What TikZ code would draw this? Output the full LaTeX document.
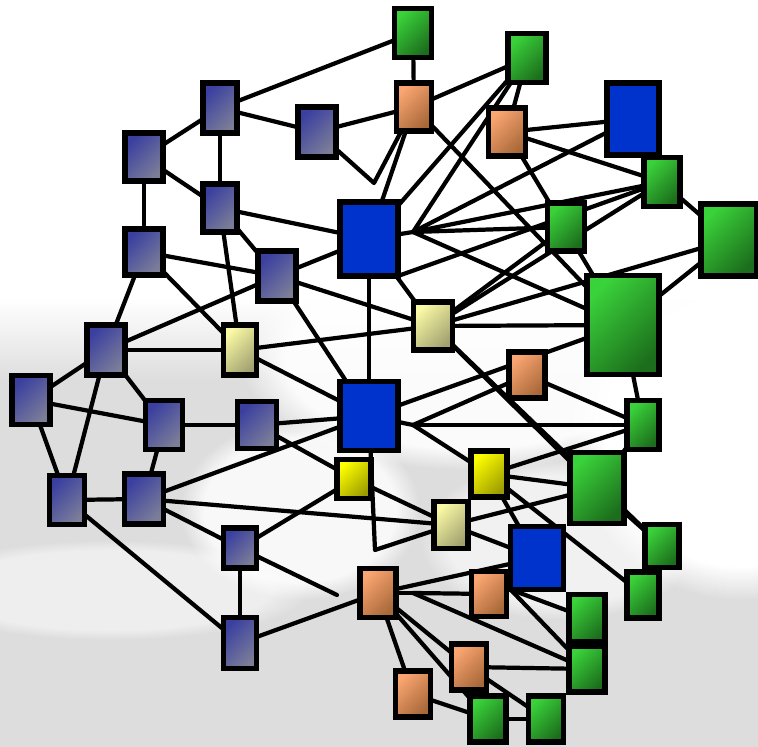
\documentclass[tikz,border=0pt]{standalone}
\usepackage{xcolor}
\usepackage{tikz}
\usetikzlibrary{backgrounds, fadings}
\pgfdeclarelayer{back}
\pgfsetlayers{back,background,main}

\definecolor{slateA}{HTML}{3A3FA0}
\definecolor{slateB}{HTML}{7C7E98}
\definecolor{blueN}{HTML}{0033CC}
\definecolor{paleA}{HTML}{FAFAA6}
\definecolor{paleB}{HTML}{A2A270}
\definecolor{yelA}{HTML}{FFFF00}
\definecolor{yelB}{HTML}{9C9C00}
\definecolor{orA}{HTML}{FBA672}
\definecolor{orB}{HTML}{A86838}
\definecolor{grA}{HTML}{3AD23A}
\definecolor{grB}{HTML}{1C6E1C}
\definecolor{cloud}{HTML}{DDDDDD}

\tikzset{
  % node styles
  box/.style={rectangle, draw=black, line width=3.6pt, inner sep=0pt, outer sep=0pt},
  wh/.style 2 args={minimum width=#1*0.025cm, minimum height=#2*0.025cm},
  slate/.style={box, top color=slateA, bottom color=slateB, shading angle=45},
  hub/.style={box, fill=blueN},
  pale/.style={box, top color=paleA, bottom color=paleB, shading angle=45},
  yel/.style={box, top color=yelA, bottom color=yelB, shading angle=45},
  ora/.style={box, top color=orA, bottom color=orB, shading angle=45},
  grn/.style={box, top color=grA, bottom color=grB, shading angle=45},
  % connector style
  link/.style={line width=3pt, line cap=round, line join=round},
  % background blobs
  glow/.style={white, opacity=#1, path fading=circle with fuzzy edge 20 percent},
  glow/.default={0.8},
}

\begin{document}
\begin{tikzpicture}[x=0.025cm, y=-0.025cm]
    \useasboundingbox (0,0) rectangle (758,747);

    % grey clouds behind everything
    \begin{pgfonlayer}{back}
      \fill[white] (0,0) rectangle (758,747);
      \fill[cloud] (0,380) rectangle (758,747);
      \fill[cloud, path fading=north] (0,300) rectangle (758,382);
      \fill[glow=1] (740,430) ellipse (170 and 170);
      \fill[glow=0.9] (470,360) ellipse (230 and 110);
      \fill[glow] (300,510) ellipse (120 and 90);
      \fill[glow=0.5] (110,590) ellipse (200 and 50);
      \fill[glow=0.6] (560,540) ellipse (140 and 80);
    \end{pgfonlayer}

    % slate nodes
    \node[slate, wh={34}{50}] (s1) at (220,108) {};
    \node[slate, wh={38}{50}] (s2) at (317,132) {};
    \node[slate, wh={38}{48}] (s3) at (144,157) {};
    \node[slate, wh={34}{48}] (s4) at (220,208) {};
    \node[slate, wh={38}{46}] (s5) at (144,252) {};
    \node[slate, wh={38}{50}] (s6) at (277,276) {};
    \node[slate, wh={38}{50}] (s7) at (106,350) {};
    \node[slate, wh={38}{49}] (s8) at (31,400) {};
    \node[slate, wh={37}{49}] (s9) at (164,425) {};
    \node[slate, wh={39}{47}] (s10) at (257,425) {};
    \node[slate, wh={35}{49}] (s11) at (67,500) {};
    \node[slate, wh={39}{50}] (s12) at (144,499) {};
    \node[slate, wh={33}{40}] (s13) at (240,548) {};
    \node[slate, wh={33}{51}] (s14) at (240,643) {};

    % blue nodes
    \node[hub, wh={58}{74}] (b1) at (369,239) {};
    \node[hub, wh={58}{69}] (b2) at (369,416) {};
    \node[hub, wh={53}{63}] (b3) at (537,558) {};
    \node[hub, wh={52}{72}] (b4) at (633,119) {};

    % yellow nodes
    \node[pale, wh={33}{50}] (p1) at (240,350) {};
    \node[pale, wh={39}{48}] (p2) at (433,326) {};
    \node[pale, wh={34}{47}] (p3) at (451,525) {};
    \node[yel, wh={34}{39}] (y1) at (354,479) {};
    \node[yel, wh={36}{46}] (y2) at (489,474) {};

    % orange nodes
    \node[ora, wh={35}{48}] (o1) at (414,107) {};
    \node[ora, wh={37}{48}] (o2) at (507,132) {};
    \node[ora, wh={36}{46}] (o3) at (527,375) {};
    \node[ora, wh={36}{49}] (o4) at (378,593) {};
    \node[ora, wh={35}{45}] (o5) at (489,594) {};
    \node[ora, wh={35}{46}] (o6) at (469,667) {};
    \node[ora, wh={35}{46}] (o7) at (413,694) {};

    % green nodes
    \node[grn, wh={37}{49}] (g1) at (413,33) {};
    \node[grn, wh={38}{49}] (g2) at (527,58) {};
    \node[grn, wh={36}{49}] (g3) at (662,182) {};
    \node[grn, wh={37}{48}] (g4) at (566,227) {};
    \node[grn, wh={56}{72}] (g5) at (729,240) {};
    \node[grn, wh={72}{99}] (g6) at (623,325) {};
    \node[grn, wh={32}{49}] (g7) at (643,425) {};
    \node[grn, wh={54}{71}] (g8) at (597,488) {};
    \node[grn, wh={34}{43}] (g9) at (662,546) {};
    \node[grn, wh={32}{46}] (g10) at (643,595) {};
    \node[grn, wh={36}{47}] (g11) at (587,618) {};
    \node[grn, wh={36}{46}] (g12) at (587,669) {};
    \node[grn, wh={36}{46}] (g13) at (488,719) {};
    \node[grn, wh={35}{46}] (g14) at (546,719) {};

    % bend points
    \coordinate (b1h) at (413,232);
    \coordinate (b2h) at (413,425);
    \coordinate (o4h) at (413,593);
    \coordinate (s2v) at (374,183);
    \coordinate (b2v) at (375,550);
    \coordinate (s13e) at (337,595);

    \begin{scope}[on background layer]
    % left part
    \draw[link] (s1) -- (g1);
    \draw[link] (s1) -- (s2);
    \draw[link] (s1) -- (s3);
    \draw[link] (s1) -- (s4);
    \draw[link] (s3) -- (s4);
    \draw[link] (s3) -- (s5);
    \draw[link] (s2) -- (o1);
    \draw[link] (s2) -- (s2v) -- (o1);
    \draw[link] (b1) -- (o1);
    \draw[link] (s4) -- (b1);
    \draw[link] (s4) -- (s6);
    \draw[link] (s4) -- (p1);
    \draw[link] (s5) -- (s6);
    \draw[link] (s5) -- (s7);
    \draw[link] (s5) -- (p1);
    \draw[link] (s6) -- (b1);
    \draw[link] (s6) -- (s7);
    \draw[link] (s6) -- (p2);
    \draw[link] (s6) -- (b2);
    \draw[link] (s7) -- (p1);
    \draw[link] (p1) -- (p2);
    \draw[link] (p1) -- (b2);
    \draw[link] (b1) -- (b2);
    \draw[link] (b1) -- (p2);
    \draw[link] (s7) -- (s8);
    \draw[link] (s7) -- (s11);
    \draw[link] (s7) -- (s9);
    \draw[link] (s8) -- (s9);
    \draw[link] (s8) -- (s11);
    \draw[link] (s9) -- (s10);
    \draw[link] (s9) -- (s12);
    \draw[link] (s10) -- (b2);
    \draw[link] (s10) -- (y1);
    \draw[link] (s11) -- (s12);
    \draw[link] (s11) -- (s14);
    \draw[link] (s12) -- (b2);
    \draw[link] (s12) -- (p3);
    \draw[link] (s12) -- (s13);
    \draw[link] (s13) -- (y1);
    \draw[link] (s13) -- (s13e);
    \draw[link] (s13) -- (s14);
    \draw[link] (s14) -- (o4);
    % top part
    \draw[link] (g1) -- (o1);
    \draw[link] (g2) -- (o1);
    \draw[link] (g2) -- (b1);
    \draw[link] (g2) -- (b1h);
    \draw[link] (g2) -- (o2);
    \draw[link] (o1) -- (g6);
    \draw[link] (o2) -- (b4);
    \draw[link] (o2) -- (g3);
    \draw[link] (o2) -- (g6);
    \draw[link] (b1) -- (b1h);
    \draw[link] (b1h) -- (b4);
    \draw[link] (b1h) -- (g3);
    \draw[link] (b1h) -- (g4);
    \draw[link] (b1h) -- (g6);
    \draw[link] (b1.south east) -- (g3);
    \draw[link] (g3) -- (p2);
    \draw[link] (g3) -- (g5);
    \draw[link] (g5) -- (p2);
    \draw[link] (g5) -- (g6);
    \draw[link] (p2) -- (g4);
    \draw[link] (p2) -- (g6);
    % middle part
    \draw[link] (b2) -- (b2h);
    \draw[link] (b2h) -- (g7);
    \draw[link] (b2h) -- (o3);
    \draw[link] (b2h) -- (y2);
    \draw[link] (b2) -- (g6);
    \draw[link] (o3) -- (g7);
    \draw[link] (g6) -- (g7);
    \draw[link] (g7) -- (g8);
    \draw[link] (g8) -- (g9);
    \draw[link] (y2) -- (g7);
    \draw[link] (y2) -- (g8);
    \draw[link] (y2) -- (b3);
    \draw[link] (y2) -- (g10);
    \draw[link] (p2) -- (g8);
    \draw[link] (p2) -- (g9);
    \draw[link] (p3) -- (g8);
    \draw[link] (p3) -- (b3);
    \draw[link] (y1) -- (p3);
    \draw[link] (b2) -- (b2v) -- (p3);
    % bottom part
    \draw[link] (o4) -- (o4h);
    \draw[link] (o4h) -- (o5);
    \draw[link] (o4h) -- (g12);
    \draw[link] (o4) -- (b3);
    \draw[link] (o4) -- (o7);
    \draw[link] (o4) -- (g13);
    \draw[link] (o4) -- (o6);
    \draw[link] (b3.south west) -- (g11);
    \draw[link] (b3.south west) -- (g12);
    \draw[link] (o7) -- (g13);
    \draw[link] (o6) -- (g14);
    \draw[link] (o6) -- (g12);
    \draw[link] (g13) -- (g14);
    \end{scope}
\end{tikzpicture}
\end{document}
